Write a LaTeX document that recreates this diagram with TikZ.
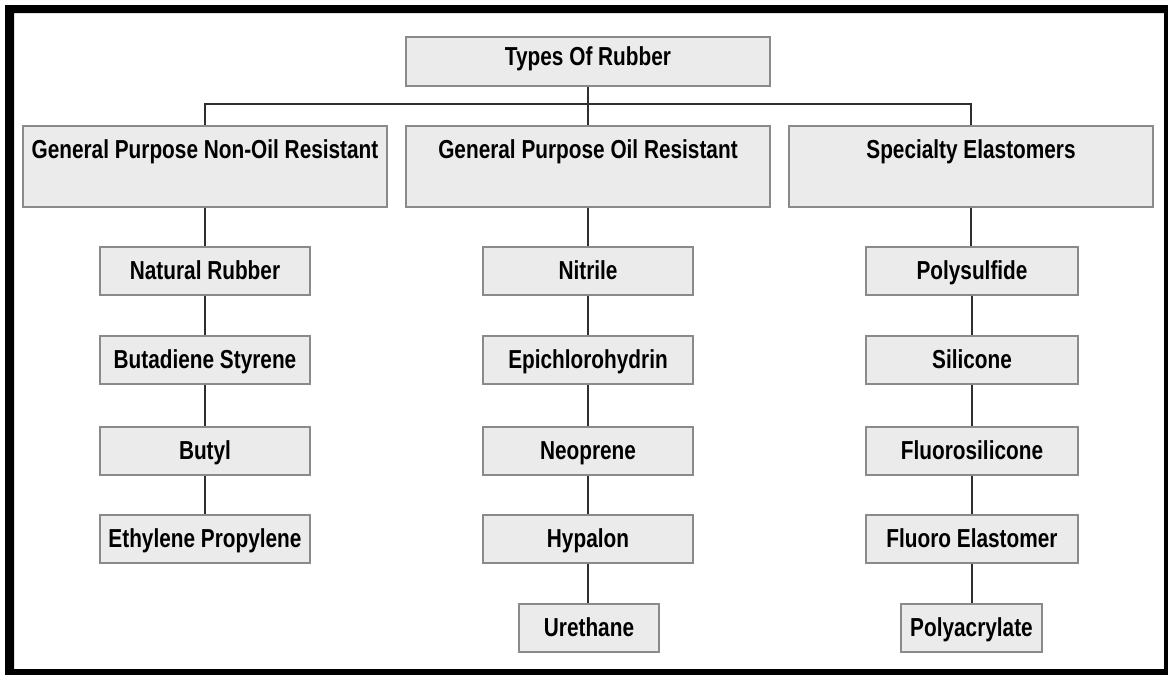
\documentclass[tikz,border=0pt]{standalone}
\usepackage{fontspec}
\setmainfont{Liberation Sans}[FakeStretch=0.8]
\definecolor{boxfill}{HTML}{EBEBEB}
\definecolor{boxline}{HTML}{8A8A8A}
\definecolor{wire}{HTML}{2E2E2E}
\begin{document}
\begin{tikzpicture}[x=1pt,y=-1pt,
  base/.style={draw=boxline,fill=boxfill,line width=1.8pt,inner sep=0pt,
    font=\fontsize{26}{30}\selectfont\bfseries,anchor=center},
  topbox/.style={base,minimum width=364pt,text height=28pt,text depth=21pt},
  catbox/.style={base,minimum width=364pt,text height=32pt,text depth=49pt},
  itembox/.style={base,minimum width=210pt,text height=32.5pt,text depth=15.5pt},
  endbox/.style={base,minimum width=140pt,text height=32.5pt,text depth=15.5pt},
  wireline/.style={draw=wire,line width=1.6pt}]
\useasboundingbox (0,0) rectangle (1168,675);
\fill[white] (0,0) rectangle (1168,675);
\fill[black,even odd rule] (5,5) rectangle (1168,675) (14,13) rectangle (1164,669);

\node[topbox] (top) at (588,61.5) {Types Of Rubber};
\node[catbox] (c1) at (205,166.5) {General Purpose Non-Oil Resistant};
\node[catbox] (c2) at (588,166.5) {General Purpose Oil Resistant};
\node[catbox] (c3) at (971,166.5) {Specialty Elastomers};

\node[itembox] (a1) at (205,271) {Natural Rubber};
\node[itembox] (a2) at (205,360) {Butadiene Styrene};
\node[itembox] (a3) at (205,451) {Butyl};
\node[itembox] (a4) at (205,539) {Ethylene Propylene};

\node[itembox] (b1) at (588,271) {Nitrile};
\node[itembox] (b2) at (588,360) {Epichlorohydrin};
\node[itembox] (b3) at (588,451) {Neoprene};
\node[itembox] (b4) at (588,539) {Hypalon};
\node[endbox] (b5) at (589,628) {Urethane};

\node[itembox,minimum width=212pt] (d1) at (972,271) {Polysulfide};
\node[itembox,minimum width=212pt] (d2) at (972,360) {Silicone};
\node[itembox,minimum width=212pt] (d3) at (972,451) {Fluorosilicone};
\node[itembox,minimum width=212pt] (d4) at (972,539) {Fluoro Elastomer};
\node[endbox,minimum width=141pt] (d5) at (971.5,628) {Polyacrylate};

\coordinate (bus) at (588,104);
\draw[wireline] (top.south) -- (c2.north);
\draw[wireline] (c1.north) -- (c1.north |- bus) -- (c3.north |- bus) -- (c3.north);

\draw[wireline] (c1.south) -- (a1.north);
\draw[wireline] (a1.south) -- (a2.north);
\draw[wireline] (a2.south) -- (a3.north);
\draw[wireline] (a3.south) -- (a4.north);

\draw[wireline] (c2.south) -- (b1.north);
\draw[wireline] (b1.south) -- (b2.north);
\draw[wireline] (b2.south) -- (b3.north);
\draw[wireline] (b3.south) -- (b4.north);
\draw[wireline] (b4.south) -- (b4.south |- b5.north);

\draw[wireline] (c3.south) -- (c3.south |- d1.north);
\draw[wireline] (d1.south) -- (d2.north);
\draw[wireline] (d2.south) -- (d3.north);
\draw[wireline] (d3.south) -- (d4.north);
\draw[wireline] (d4.south) -- (d4.south |- d5.north);
\end{tikzpicture}
\end{document}
